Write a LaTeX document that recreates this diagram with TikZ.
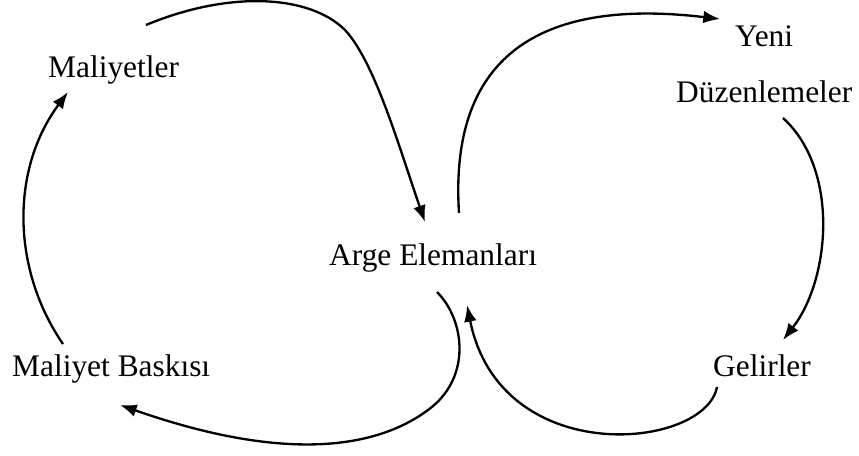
\documentclass[tikz,border=0pt]{standalone}
\usepackage{fontspec}
\setmainfont{Liberation Serif}
\usepackage{tikz}
\usetikzlibrary{arrows.meta}

\begin{document}
\begin{tikzpicture}[x=0.3mm,y=-0.3mm,
  every node/.style={inner sep=0pt,anchor=base west,font=\fontsize{26.8}{32}\selectfont},
  loop arrow/.style={line width=0.7mm,-{Latex[length=5mm,width=3.8mm]}}]
\useasboundingbox (0,0) rectangle (859,455);
\node (mal)  at (48,77)   {Maliyetler};
\node (yeni) at (735,46)  {Yeni};
\node (duz)  at (676,102) {Düzenlemeler};
\node (arge) at (329,265) {Arge Elemanları};
\node (mb)   at (12,376)  {Maliyet Baskısı};
\node (gel)  at (713,376) {Gelirler};
% left loop
\draw[loop arrow] ([shift={(51,-32)}]mb.base west) .. controls (12,270) and (10,170) .. ([shift={(20,15)}]mal.base west);
\draw[loop arrow] ([shift={(98,-52)}]mal.base west) .. controls (230,-10) and (310,-5) .. (345,30)
  .. controls (375,62) and (400,150) .. ([shift={(96,-43)}]arge.base west);
\draw[loop arrow] ([shift={(108,27)}]arge.base west) .. controls (465,320) and (472,378) .. (428,410)
  .. controls (385,442) and (300,468) .. ([shift={(108,29)}]mb.base west);
% right loop
\draw[loop arrow] ([shift={(130,-52)}]arge.base west) .. controls (448,40) and (560,0) .. ([shift={(-15,-27)}]yeni.base west);
\draw[loop arrow] ([shift={(107,16)}]duz.base west) .. controls (840,170) and (830,280) .. ([shift={(70,-36)}]gel.base west);
\draw[loop arrow] ([shift={(4,11)}]gel.base west) .. controls (705,450) and (500,470) .. ([shift={(138,40)}]arge.base west);
\end{tikzpicture}
\end{document}
